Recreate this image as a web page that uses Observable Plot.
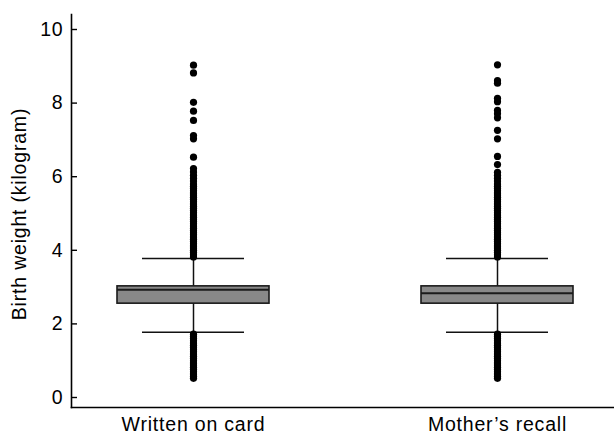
<!DOCTYPE html>
<html>
<head>
<meta charset="utf-8">
<script src="https://cdn.jsdelivr.net/npm/d3@7"></script>
<script src="https://cdn.jsdelivr.net/npm/@observablehq/plot@0.6"></script>
<style>
  html, body { margin: 0; padding: 0; background: #fff; }
  #chart svg { display: block; }
</style>
</head>
<body>
<div id="chart"></div>
<script>
// Categories and box statistics (kilogram)
const categories = ["Written on card", "Mother\u2019s recall"];
const q1 = [2.55, 2.55];
const medians = [2.93, 2.83];
const q3 = [3.02, 3.02];
const whiskerLow = [1.77, 1.77];
const whiskerHigh = [3.78, 3.78];

// Outliers
const cardHigh = [9.03, 8.82, 8.02, 7.78, 7.53, 7.12, 7.03, 6.53,
  6.22, 6.13, 6.04, 5.96, 5.88, 5.80, 5.74, 5.68, 5.62, 5.56, 5.50, 5.44, 5.38,
  5.32, 5.26, 5.20, 5.14, 5.08, 5.02, 4.96, 4.90, 4.84, 4.78, 4.72, 4.66, 4.60,
  4.54, 4.48, 4.42, 4.36, 4.30, 4.24, 4.18, 4.12, 4.06, 4.00, 3.94, 3.88, 3.82];
const cardLow = [1.72, 1.66, 1.60, 1.54, 1.48, 1.42, 1.36, 1.30, 1.24, 1.18,
  1.12, 1.06, 1.00, 0.94, 0.88, 0.82, 0.76, 0.70, 0.64, 0.58, 0.52];
const recallHigh = [9.04, 8.61, 8.54, 8.13, 8.04, 7.80, 7.71, 7.60, 7.26, 7.03,
  6.55, 6.33, 6.12, 6.04, 5.96, 5.88, 5.80, 5.74, 5.68, 5.62, 5.56, 5.50, 5.44,
  5.38, 5.32, 5.26, 5.20, 5.14, 5.08, 5.02, 4.96, 4.90, 4.84, 4.78, 4.72, 4.66,
  4.60, 4.54, 4.48, 4.42, 4.36, 4.30, 4.24, 4.18, 4.12, 4.06, 4.00, 3.94, 3.88, 3.82];
const recallLow = [1.72, 1.66, 1.60, 1.54, 1.48, 1.42, 1.36, 1.30, 1.24, 1.18,
  1.12, 1.06, 1.00, 0.94, 0.88, 0.82, 0.76, 0.70, 0.64, 0.58, 0.52];

const yTicks = [0, 2, 4, 6, 8, 10];
const yLabel = "Birth weight (kilogram)";

const boxes = categories.map((c, i) => ({
  cat: c, q1: q1[i], med: medians[i], q3: q3[i], lo: whiskerLow[i], hi: whiskerHigh[i]
}));
const outliers = [
  ...cardHigh.map(v => ({cat: categories[0], v})),
  ...cardLow.map(v => ({cat: categories[0], v})),
  ...recallHigh.map(v => ({cat: categories[1], v})),
  ...recallLow.map(v => ({cat: categories[1], v}))
];

const font = "Liberation Sans, Arial, Helvetica, sans-serif";

const chart = Plot.plot({
  width: 614,
  height: 438,
  marginLeft: 71,
  marginRight: 0,
  marginTop: 14,
  marginBottom: 31,
  style: {fontFamily: font, fontSize: "19.5px", letterSpacing: "0.8px", color: "#000", background: "#fff"},
  x: {type: "band", domain: categories, range: [-35, 725], padding: 0.5},
  y: {domain: [0, 10], range: [397, 29]},
  marks: [
    Plot.ruleX(boxes, {x: "cat", y1: "lo", y2: "hi", stroke: "#111", strokeWidth: 1.5}),
    Plot.tickY(boxes, {x: "cat", y: "lo", stroke: "#111", strokeWidth: 1.5, inset: 25}),
    Plot.tickY(boxes, {x: "cat", y: "hi", stroke: "#111", strokeWidth: 1.5, inset: 25}),
    Plot.dot(outliers, {x: "cat", y: "v", r: 3.6, fill: "#000", stroke: "none"}),
    Plot.barY(boxes, {x: "cat", y1: "q1", y2: "q3", fill: "#888", stroke: "#1a1a1a", strokeWidth: 1.6}),
    Plot.tickY(boxes, {x: "cat", y: "med", stroke: "#1a1a1a", strokeWidth: 2}),
    Plot.frame({anchor: "left", stroke: "#000", strokeWidth: 1.6}),
    Plot.frame({anchor: "bottom", stroke: "#000", strokeWidth: 1.6}),
    Plot.axisY(yTicks, {tickSize: -6, tickPadding: 14, label: null, fontSize: 19.5, strokeWidth: 1.4}),
    Plot.axisX(categories, {tickSize: 0, tickPadding: 10, label: null, fontSize: 19.5}),
    Plot.text([yLabel], {frameAnchor: "left", textAnchor: "middle", dx: -52, dy: 3, rotate: -90, fontSize: 19.5, fill: "#000"})
  ]
});
document.getElementById("chart").appendChild(chart);
</script>
</body>
</html>
